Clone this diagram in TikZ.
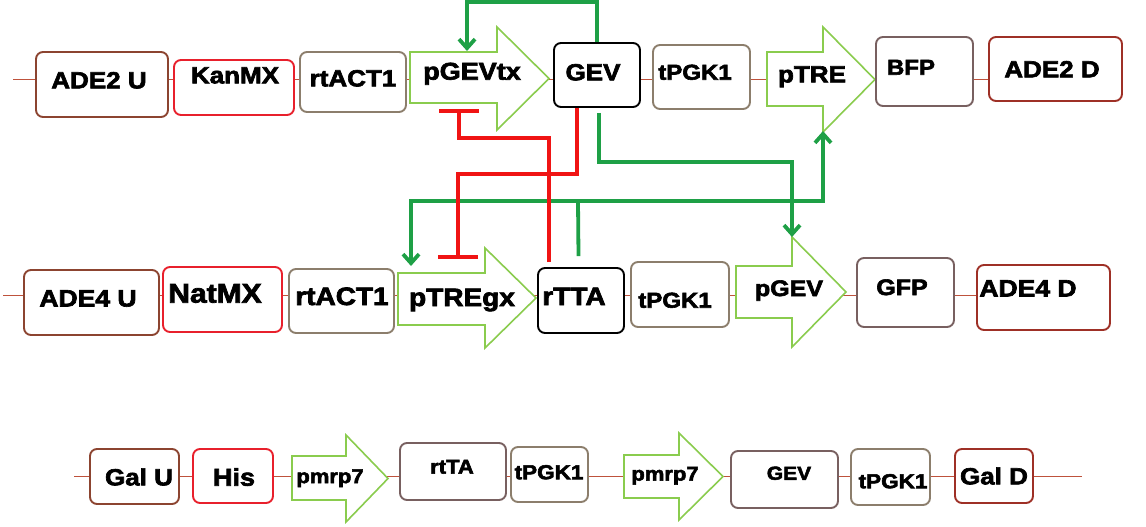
\documentclass[tikz,border=0pt]{standalone}
\usepackage{fontspec}
\setmainfont{Liberation Sans}[BoldFeatures={FakeBold=2.6}]
\usetikzlibrary{arrows.meta}
\definecolor{cU}{RGB}{140,68,48}
\definecolor{cD}{RGB}{158,48,38}
\definecolor{cM}{RGB}{232,32,44}
\definecolor{cT}{RGB}{140,126,108}
\definecolor{cG}{RGB}{120,96,96}
\definecolor{cP}{RGB}{138,204,78}
\definecolor{cA}{RGB}{30,160,70}
\definecolor{cI}{RGB}{240,20,20}
\definecolor{cB}{RGB}{190,82,60}
\tikzset{
  box/.style={line width=1.9pt, rounded corners=7pt, fill=white, inner sep=0pt},
  prom/.style={draw=cP, line width=1.6pt, fill=white, line join=miter},
  bb/.style={draw=cB, line width=0.8pt},
  lbl/.style={font=\bfseries\fontsize{#1}{#1}\selectfont, inner sep=0pt, anchor=base},
  act/.style={draw=cA, line width=3.8pt, -{Straight Barb[length=9pt,width=16pt]}},
  acttwo/.style={draw=cA, line width=3.8pt, {Straight Barb[length=9pt,width=16pt]}-{Straight Barb[length=9pt,width=16pt]}},
  actline/.style={draw=cA, line width=3.8pt},
  inh/.style={draw=cI, line width=3.8pt, -{Bar[width=40pt,line width=4pt]}}
}
\newcommand\bx[6]{\node[box,draw=#2,minimum width={#5-#3},minimum height={#6-#4}] (#1) at ({(#3+#5)/2},{(#4+#6)/2}) {};}
\newcommand\lb[5]{\node[lbl=#2] (#1) at (#3,{#4+0.322*#2}) {\scalebox{1}[0.9]{#5}};}
\newcommand\pr[8]{\draw[prom] (#2,#3) -- (#5,#3) -- (#5,#6) -- (#8,{(#6+#7)/2}) -- (#5,#7) -- (#5,#4) -- (#2,#4) -- cycle;
  \coordinate (#1) at ({(#2+#8)/2},{(#6+#7)/2});}
\begin{document}
\begin{tikzpicture}[x=1pt,y=-1pt]
\useasboundingbox[fill=white] (0,0) rectangle (1146,527);
% ---------- top row ----------
\draw[bb] (13,79) -- (989,79);
\bx{ade2u}{cU}{36}{52}{168}{117}
\bx{kanmx}{cM}{174}{60}{294}{115}
\bx{ractA}{cT}{300}{52}{406}{112}
\pr{pgevtx}{410}{52}{103}{497}{27}{130}{549}
\bx{gevT}{black}{554}{43}{640}{107}
\bx{tpgkA}{cT}{653}{45}{750}{109}
\pr{ptre}{767}{52}{106}{823}{27}{132}{875}
\bx{bfp}{cG}{876}{37}{973}{106}
\bx{ade2d}{cD}{989}{37}{1122}{101}
\lb{l1}{26}{99}{80}{ADE2 U}
\lb{l2}{26}{235}{75}{KanMX}
\lb{l3}{26}{353}{78}{rtACT1}
\lb{l4}{27}{472}{71}{pGEVtx}
\lb{l5}{26}{593}{72}{GEV}
\lb{l6}{24}{695}{72}{tPGK1}
\lb{l7}{26}{812}{74}{pTRE}
\lb{l8}{24}{911}{67}{BFP}
\lb{l9}{26}{1052}{69}{ADE2 D}
% ---------- middle row ----------
\draw[bb] (3,295) -- (977,295);
\bx{ade4u}{cU}{24}{270}{159}{335}
\bx{natmx}{cM}{163}{267}{282}{332}
\bx{ractB}{cT}{289}{269}{394}{333}
\pr{ptregx}{398}{273}{325}{485}{248}{348}{536}
\bx{rtta}{black}{538}{268}{624}{333}
\bx{tpgkB}{cT}{631}{262}{729}{327}
\pr{pgev}{736}{266}{318}{792}{237}{347}{846}
\bx{gfp}{cG}{857}{258}{954}{327}
\bx{ade4d}{cD}{977}{265}{1110}{330}
\lb{m1}{26.5}{88}{298}{ADE4 U}
\lb{m2}{30}{215}{293}{NatMX}
\lb{m3}{28}{342}{296}{rtACT1}
\lb{m4}{28}{462}{297}{pTREgx}
\lb{m5}{28}{574}{296}{rTTA}
\lb{m6}{24}{675}{300}{tPGK1}
\lb{m7}{25}{789}{288}{pGEV}
\lb{m8}{25}{902}{287}{GFP}
\lb{m9}{26.5}{1028}{288}{ADE4 D}
% ---------- bottom row ----------
\draw[bb] (74,476) -- (1082,476);
\bx{galu}{cU}{90}{449}{179}{504}
\bx{his}{cM}{193}{449}{273}{503}
\pr{pmrpA}{292}{456}{500}{346}{435}{522}{388}
\bx{rtta2}{cG}{400}{443}{506}{500}
\bx{tpgkC}{cT}{511}{447}{588}{502}
\pr{pmrpB}{624}{455}{498}{679}{433}{520}{723}
\bx{gevB}{cG}{731}{451}{838}{508}
\bx{tpgkD}{cT}{851}{449}{930}{505}
\bx{gald}{cD}{955}{449}{1033}{503}
\lb{b1}{26}{139}{477}{Gal U}
\lb{b2}{27}{234}{477}{His}
\lb{b3}{22}{330}{476}{pmrp7}
\lb{b4}{22}{452}{466.5}{rtTA}
\lb{b5}{22.5}{549}{472}{tPGK1}
\lb{b6}{22}{665}{473.5}{pmrp7}
\lb{b7}{21}{789}{473}{GEV}
\lb{b8}{22.5}{893}{481}{tPGK1}
\lb{b9}{26}{994}{476}{Gal D}
% ---------- regulation ----------
\coordinate (pgevtx-in) at (467,51);
\coordinate (pgevtx-bar) at (459,109);
\coordinate (ptregx-in) at (411,266);
\coordinate (ptregx-bar) at (458,259);
\coordinate (pgev-in) at (792,237);
\coordinate (ptre-in) at (823,131);
\coordinate (j) at (578,201);
\draw[act] (gevT.north) -- ++(0,-40) -| (pgevtx-in);
\draw[act] ([xshift=2pt,yshift=-5pt]gevT.south) -- ++(0,49) -| (pgev-in);
\draw[actline] ([xshift=-2.5pt,yshift=11pt]rtta.north) -- (j);
\draw[acttwo] (ptregx-in) |- (j) -| (ptre-in);
\draw[inh] ([xshift=-32pt,yshift=5pt]rtta.north) -- ++(0,-124) -| (pgevtx-bar);
\draw[inh] ([xshift=-20pt]gevT.south) -- ++(0,66) -| (ptregx-bar);
\end{tikzpicture}
\end{document}
